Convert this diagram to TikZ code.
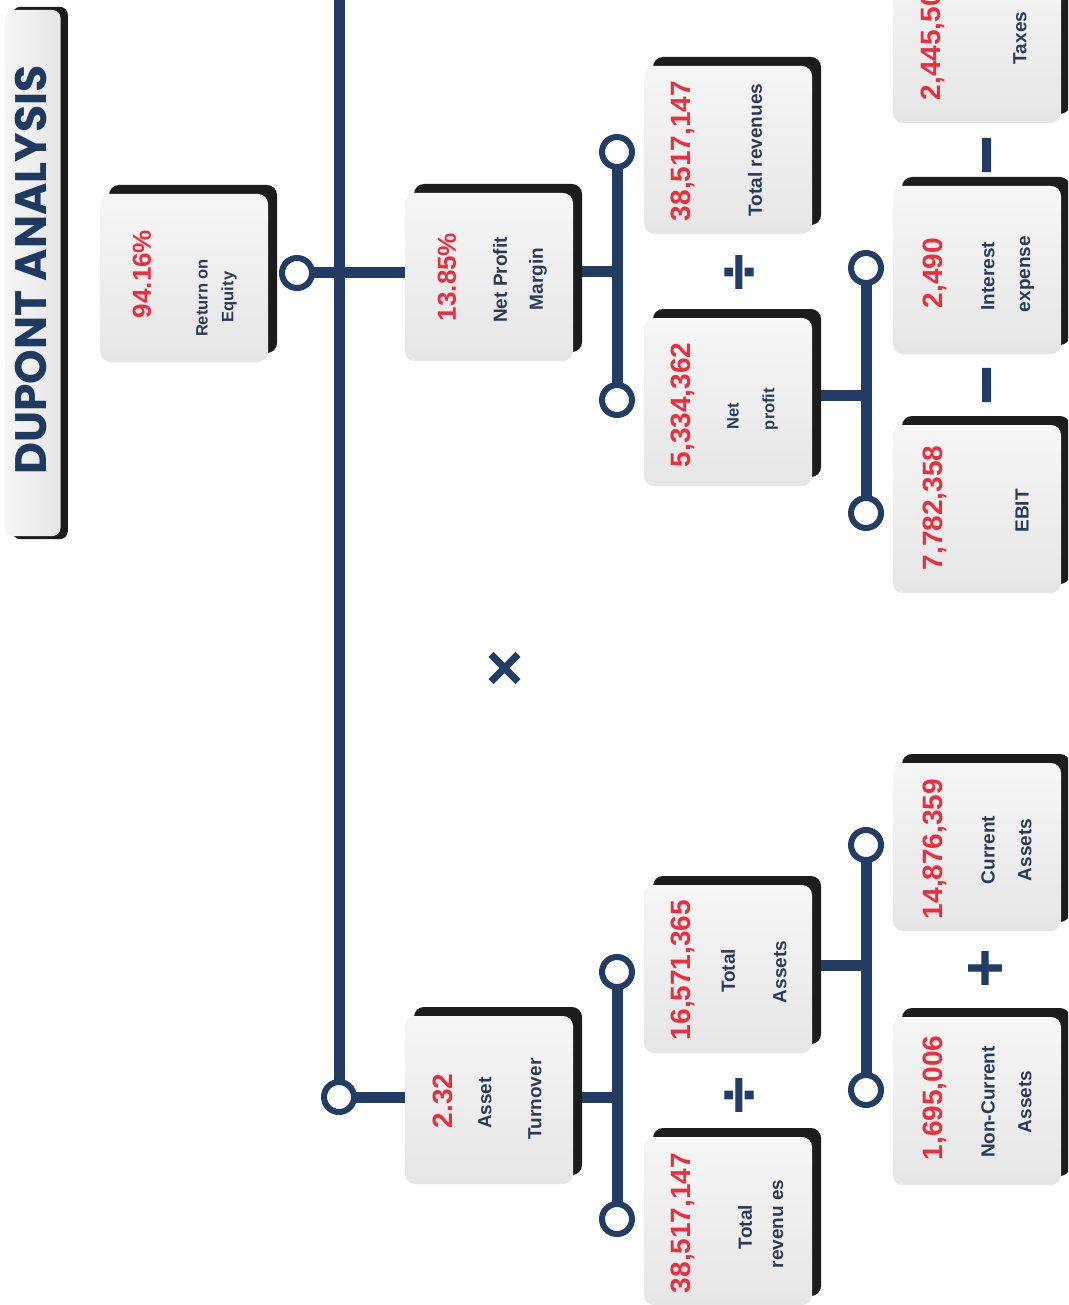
\documentclass[tikz,border=0pt]{standalone}
\usepackage{fontspec}
\setmainfont{Liberation Sans}
\newfontfamily\titlefont{Poppins}
\newfontfamily\opfont{DejaVu Sans}[BoldFeatures={FakeBold=2}]
\newfontfamily\opheavy{DejaVu Sans}[BoldFeatures={FakeBold=6}]
\usetikzlibrary{shadows}
\pgfdeclarelayer{background}
\pgfsetlayers{background,main}
\definecolor{navy}{HTML}{233C64}
\definecolor{labcol}{HTML}{2D3A55}
\definecolor{numred}{HTML}{EE2C3C}
\definecolor{shadowcol}{HTML}{1C1C1C}
\definecolor{titlecol}{HTML}{1F3A60}
\definecolor{facetop}{HTML}{F6F6F6}
\definecolor{facebot}{HTML}{E6E6E6}
\tikzset{
  card/.style={rectangle, rounded corners=10pt, minimum width=168pt, minimum height=168pt, inner sep=0pt,
    top color=facetop, bottom color=facebot,
    drop shadow={shadow xshift=9pt, shadow yshift=9pt, fill=shadowcol, opacity=1}},
  titlebox/.style={rectangle, rounded corners=8pt, minimum width=55pt, minimum height=526pt, inner sep=0pt,
    left color=facetop, right color=facebot,
    drop shadow={shadow xshift=7pt, shadow yshift=0pt, shadow scale=1.012, fill=shadowcol, opacity=1}},
  num/.style={rotate=90, text=numred, inner sep=0pt, font=\bfseries\fontsize{28}{30}\selectfont},
  numsm/.style={num, font=\bfseries\fontsize{26}{28}\selectfont},
  lab/.style={rotate=90, text=labcol, inner sep=0pt, font=\bfseries\fontsize{19}{21}\selectfont},
  labsm/.style={lab, font=\bfseries\fontsize{16.5}{18}\selectfont},
  ring/.style={circle, draw=navy, line width=6pt, fill=white, minimum size=30pt, inner sep=0pt},
  conn/.style={draw=navy, line width=11pt},
  op/.style={rotate=90, text=navy, inner sep=0pt, font=\opfont\bfseries\fontsize{52}{52}\selectfont},
  opminus/.style={op, font=\opheavy\bfseries\fontsize{50}{50}\selectfont},
}
\begin{document}
\begin{tikzpicture}[x=1pt, y=-1pt]
\useasboundingbox (0,0) rectangle (1068,1305);
\clip (0,0) rectangle (1068,1305);

% title
\node[titlebox] (tbox) at (33,273) {};
\node[rotate=90, text=titlecol, inner sep=0pt, font=\titlefont\bfseries\fontsize{44}{44}\selectfont] (title) at (31,270) {DUPONT ANALYSIS};

% cards
\node[card] (roe) at (184,278) {};
\node[card] (npm) at (489,277) {};
\node[card] (atn) at (489,1100) {};
\node[card] (tr1) at (728,150) {};
\node[card] (np) at (728,402) {};
\node[card] (ta) at (728,969) {};
\node[card] (trb) at (728,1221) {};
\node[card] (tax) at (977,39) {};
\node[card] (ie) at (977,270) {};
\node[card] (ebit) at (977,509) {};
\node[card] (ca) at (977,847) {};
\node[card] (nca) at (977,1101) {};

% rings
\node[ring] (r-roe) at (297,273) {};
\node[ring] (r-at) at (339,1097) {};
\node[ring] (r-tr1) at (617,152) {};
\node[ring] (r-np) at (617,400) {};
\node[ring] (r-ie) at (866,268) {};
\node[ring] (r-ebit) at (866,513) {};
\node[ring] (r-ta) at (617,972) {};
\node[ring] (r-trb) at (617,1219) {};
\node[ring] (r-ca) at (866,845) {};
\node[ring] (r-nca) at (866,1090) {};

\coordinate (top) at (339,0);
\coordinate (j1) at (617,272);
\coordinate (j2) at (866,395);
\coordinate (j3) at (617,1097);
\coordinate (j4) at (866,965);

\begin{pgfonlayer}{background}
\draw[conn] (top) -- (r-at.center);
\draw[conn] (r-roe.center) -- (r-roe.center -| npm.center);
\draw[conn] (r-at.center) -- (r-at.center -| atn.center);
\draw[conn] (j1 -| npm.center) -- (j1);
\draw[conn] (r-tr1.center) -- (r-np.center);
\draw[conn] (j2 -| np.center) -- (j2);
\draw[conn] (r-ie.center) -- (r-ebit.center);
\draw[conn] (j3 -| atn.center) -- (j3);
\draw[conn] (r-ta.center) -- (r-trb.center);
\draw[conn] (j4 -| ta.center) -- (j4);
\draw[conn] (r-ca.center) -- (r-nca.center);
\end{pgfonlayer}

% texts
\node[numsm] (roe-v) at (142,274) {94.16\%};
\node[labsm] (roe-l1) at (202,298) {Return on};
\node[labsm] (roe-l2) at (229,297) {Equity};

\node[numsm] (npm-v) at (447,277) {13.85\%};
\node[lab] (npm-l1) at (500,280) {Net Profit};
\node[lab] (npm-l2) at (538,279) {Margin};

\node[num] (tr1-v) at (683,151) {38,517,147};
\node[lab] (tr1-l) at (755,150) {Total revenues};

\node[num] (np-v) at (683,405) {5,334,362};
\node[labsm] (np-l1) at (733,416) {Net};
\node[labsm] (np-l2) at (770,409) {profit};

\node[num] (tax-v) at (933,38) {2,445,506};
\node[lab] (tax-l) at (1020,38) {Taxes};

\node[num] (ie-v) at (935,273) {2,490};
\node[lab] (ie-l1) at (988,276) {Interest};
\node[lab] (ie-l2) at (1027,274) {expense};

\node[num] (ebit-v) at (935,508) {7,782,358};
\node[lab] (ebit-l) at (1022,511) {EBIT};

\node[num] (atn-v) at (443,1101) {2.32};
\node[lab] (atn-l1) at (485,1103) {Asset};
\node[lab] (atn-l2) at (535,1099) {Turnover};

\node[num] (ta-v) at (683,970) {16,571,365};
\node[lab] (ta-l1) at (728,971) {Total};
\node[lab] (ta-l2) at (780,972) {Assets};

\node[num] (trb-v) at (683,1223) {38,517,147};
\node[lab] (trb-l1) at (745,1227) {Total};
\node[lab] (trb-l2) at (778,1224) {revenu es};

\node[num] (ca-v) at (935,849) {14,876,359};
\node[lab] (ca-l1) at (988,850) {Current};
\node[lab] (ca-l2) at (1025,850) {Assets};

\node[num] (nca-v) at (935,1098) {1,695,006};
\node[lab] (nca-l1) at (988,1102) {Non-Current};
\node[lab] (nca-l2) at (1025,1102) {Assets};

% operators
\node[op] (div1) at (740,272) {÷};
\node[op] (div2) at (740,1095) {÷};
\node[opminus] (minus1) at (993,385) {−};
\node[opminus] (minus2) at (993,155) {−};
\node[op] (plus) at (985,968) {+};
\node[op] (times) at (505,668) {×};
\end{tikzpicture}
\end{document}
